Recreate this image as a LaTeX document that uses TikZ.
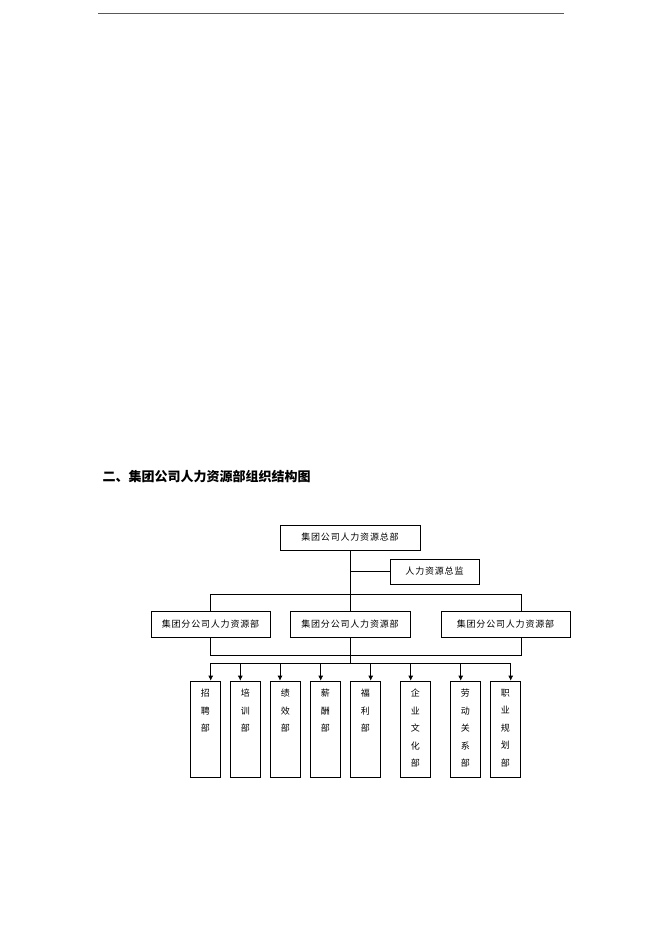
\documentclass[tikz,border=0pt]{standalone}
\usepackage{fontspec}
\newfontfamily\cjk{Noto Sans CJK SC}
\newfontfamily\cjksp[LetterSpace=9]{Noto Sans CJK SC}
\usetikzlibrary{positioning,arrows.meta}

\newcommand{\vtext}[1]{\parbox[c][96pt][t]{30pt}{\centering\vspace*{8pt}#1}}

\begin{document}
\begin{tikzpicture}[x=1pt, y=-1pt,
    line width=0.8pt,
    hq/.style={rectangle, draw, minimum height=25pt, inner sep=0pt,
        text centered, font=\cjksp\fontsize{9}{10}\selectfont},
    branch/.style={hq, minimum width=119pt, minimum height=26pt},
    dept/.style={rectangle, draw, inner sep=0pt, anchor=north,
        minimum width=30.7pt, font=\cjk\fontsize{9}{17.5}\selectfont},
    arr/.style={-{Latex[length=5pt,width=5pt]}}
]
\useasboundingbox (0,0) rectangle (662,936);

% page rule and title
\draw[gray!70!black, line width=1pt] (98,14) -- (564,14);
\node [anchor=west, font=\cjk\bfseries\fontsize{13}{13}\selectfont] (title) at (99,477)
    {二、集团公司人力资源部组织结构图};

% head office and director
\node [hq, minimum width=140pt] (hq) at (350,537.5) {集团公司人力资源总部};
\node [hq, minimum width=89pt] (cho) at (434.5,571.5) {人力资源总监};

% branch offices
\node [branch] (br1) at (210.5,624.5) {集团分公司人力资源部};
\node [branch, minimum width=120pt] (br2) at (350,624.5) {集团分公司人力资源部};
\node [branch, minimum width=129pt] (br3) at (505.5,624.5) {集团分公司人力资源部};

\coordinate (t3) at (521,594);
\coordinate (b3) at (521,655);

\draw (hq.south) -- (br2.north);
\draw (hq.south |- cho.west) -- (cho.west);
\draw (br1.north) |- (t3) -- (t3 |- br3.north);
\draw (br1.south) |- (b3) -- (b3 |- br3.south);

% departments
\foreach \i/\x/\a/\t in {
    1/205.35/210.7/{招\\聘\\部},
    2/245.35/240.3/{培\\训\\部},
    3/285.35/280.0/{绩\\效\\部},
    4/325.35/320.7/{薪\\酬\\部},
    5/365.35/370.7/{福\\利\\部},
    6/415.35/410.7/{企\\业\\文\\化\\部},
    7/465.35/460.7/{劳\\动\\关\\系\\部},
    8/505.35/510.7/{职\\业\\规\\划\\部}}{
    \node [dept] (d\i) at (\x,680.7) {\vtext{\t}};
    \coordinate (a\i) at (\a,663);
    \draw [arr] (a\i) -- (a\i |- d\i.north);
}

\draw (a1) -- (a8);
\draw (br2.south) -- (br2.south |- a1);

\end{tikzpicture}
\end{document}
